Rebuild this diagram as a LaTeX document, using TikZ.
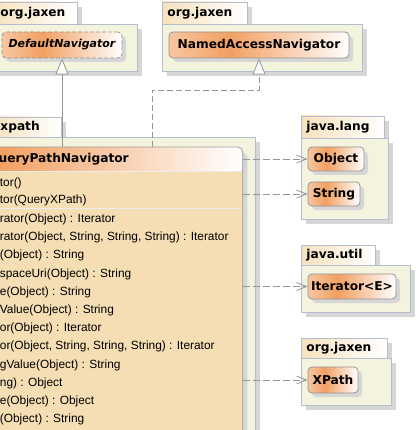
\documentclass[tikz,border=0pt]{standalone}
\usepackage{fontspec}
\newfontfamily\namefont{DejaVu Sans}
\newfontfamily\memberfont{Liberation Sans}
\usetikzlibrary{arrows.meta,shadows}
\definecolor{pkgfill}{RGB}{244,244,222}
\definecolor{pkgline}{RGB}{180,190,206}
\definecolor{tabfill}{RGB}{247,225,188}
\definecolor{classfill}{RGB}{245,222,180}
\definecolor{headlight}{RGB}{247,198,160}
\definecolor{headdark}{RGB}{242,160,98}
\definecolor{shadowgray}{RGB}{214,214,214}
\definecolor{linkgray}{RGB}{150,150,150}
\definecolor{sepline}{RGB}{236,236,236}
\pgfdeclarehorizontalshading{headgrad}{100bp}{color(0bp)=(headlight); color(25bp)=(headlight); color(42bp)=(headdark); color(75bp)=(white); color(100bp)=(white)}

\begin{document}
\begin{tikzpicture}[x=1pt, y=-1pt, line join=round, line width=.8pt,
	pkg/.style={draw=pkgline, fill=pkgfill, drop shadow={shadow xshift=5pt, shadow yshift=-5pt, fill=shadowgray, opacity=1}},
	pkgtab/.style={draw=pkgline, left color=tabfill, right color=white, drop shadow={shadow xshift=5pt, shadow yshift=-5pt, fill=shadowgray, opacity=1}},
	pkglabel/.style={anchor=west, inner sep=0pt, font=\namefont\bfseries\fontsize{12.2}{14}\selectfont},
	typebox/.style={draw=gray!85, rounded corners=4pt, shading=headgrad, minimum height=24pt, inner sep=0pt, font=\namefont\bfseries\fontsize{12.2}{14}\selectfont, drop shadow={shadow xshift=4pt, shadow yshift=-4pt, fill=shadowgray, opacity=1}},
	abstractbox/.style={typebox, dash pattern=on 4pt off 2pt, font=\namefont\bfseries\itshape\fontsize{11}{13}\selectfont},
	classbody/.style={fill=classfill, rounded corners=5pt, inner sep=0pt, drop shadow={shadow xshift=5pt, shadow yshift=-5pt, fill=shadowgray, opacity=1}},
	member/.style={anchor=base west, inner sep=0pt, font=\memberfont\fontsize{11.9}{14}\selectfont},
	gen/.style={draw=linkgray, -{Triangle[length=16pt, width=13pt, fill=white]}},
	real/.style={gen, dash pattern=on 6pt off 3pt},
	dep/.style={draw=linkgray, dash pattern=on 7pt off 3pt, -{Straight Barb[length=10pt, width=8pt]}}]
	\useasboundingbox (0,0) rectangle (417,430);
	\clip (0,0) rectangle (417,430);

	% packages
	\draw[pkgtab] (-10,2) rectangle (77,24);
	\draw[pkg] (-10,24) rectangle (137,71);
	\node[pkglabel] (jaxenleft) at (0,13) {org.jaxen};
	\draw[pkgtab] (162,2) rectangle (247,24);
	\draw[pkg] (162,24) rectangle (362,71);
	\node[pkglabel] (jaxentop) at (167,13) {org.jaxen};
	\draw[pkgtab] (-10,117) rectangle (61,137);
	\draw[pkg] (-10,137) rectangle (255,440);
	\node[pkglabel] (xpathpkg) at (0,127) {xpath};
	\draw[pkgtab] (301,116) rectangle (384,138);
	\draw[pkg] (301,138) rectangle (388,219);
	\node[pkglabel] (langpkg) at (306,127) {java.lang};
	\draw[pkgtab] (301,245) rectangle (375,265);
	\draw[pkg] (301,265) rectangle (410,312);
	\node[pkglabel] (utilpkg) at (306,255) {java.util};
	\draw[pkgtab] (301,338) rectangle (387,358);
	\draw[pkg] (301,358) rectangle (391,405);
	\node[pkglabel] (jaxenlow) at (306,348) {org.jaxen};

	% types
	\node[abstractbox, minimum width=120pt, minimum height=26pt] (defnav) at (62,45) {DefaultNavigator};
	\node[typebox, minimum width=180pt, minimum height=26pt] (named) at (259,45) {NamedAccessNavigator};
	\node[typebox, minimum width=56pt] (object) at (336,159) {Object};
	\node[typebox, minimum width=52pt] (string) at (334,194) {String};
	\node[typebox, minimum width=88pt, minimum height=25pt] (iterator) at (352,286.5) {Iterator<E>};
	\node[typebox, minimum width=50pt, minimum height=26pt] (xpath) at (333,380) {XPath};

	% class
	\node[classbody, minimum width=367pt, minimum height=300pt, anchor=north west] (qpn) at (-125,147) {};
	\begin{scope}
		\clip[rounded corners=5pt] (-125,147) rectangle (242,447);
		\shade[shading=headgrad] (-125,147) rectangle (242,171);
	\end{scope}
	\draw[sepline] (-124,171)--(241,171);
	\draw[sepline] (-124,208)--(241,208);
	\draw[gray!75, rounded corners=5pt] (qpn.north west) rectangle (qpn.south east);
	\node[anchor=center, inner sep=0pt, font=\namefont\bfseries\fontsize{12.2}{14}\selectfont] (qpnname) at (58.5,159) {QueryPathNavigator};
	\node[member] (c1) at (-0.5,186) {tor()};
	\node[member] (c2) at (-0.5,204) {tor(QueryXPath)};
	\foreach \txt [count=\i] in {rator(Object) : Iterator, {rator(Object, String, String, String) : Iterator}, (Object) : String, spaceUri(Object) : String, e(Object) : String, Value(Object) : String, or(Object) : Iterator, {or(Object, String, String, String) : Iterator}, gValue(Object) : String, ng) : Object, e(Object) : Object, (Object) : String}
		\node[member] (m\i) at (-0.5,204.3+18.2*\i) {\txt};

	% links
	\draw[gen] (defnav.south |- qpn.north) -- (defnav.south);
	\coordinate (realstart) at (152,147);
	\draw[real] (realstart) -- ++(0,-57) -| (named.south);
	\draw[dep] (qpn.east |- object.west) -- (object.west);
	\draw[dep] (qpn.east |- string.west) -- (string.west);
	\draw[dep] (qpn.east |- iterator.west) -- (iterator.west);
	\draw[dep] (qpn.east |- xpath.west) -- (xpath.west);
\end{tikzpicture}
\end{document}
